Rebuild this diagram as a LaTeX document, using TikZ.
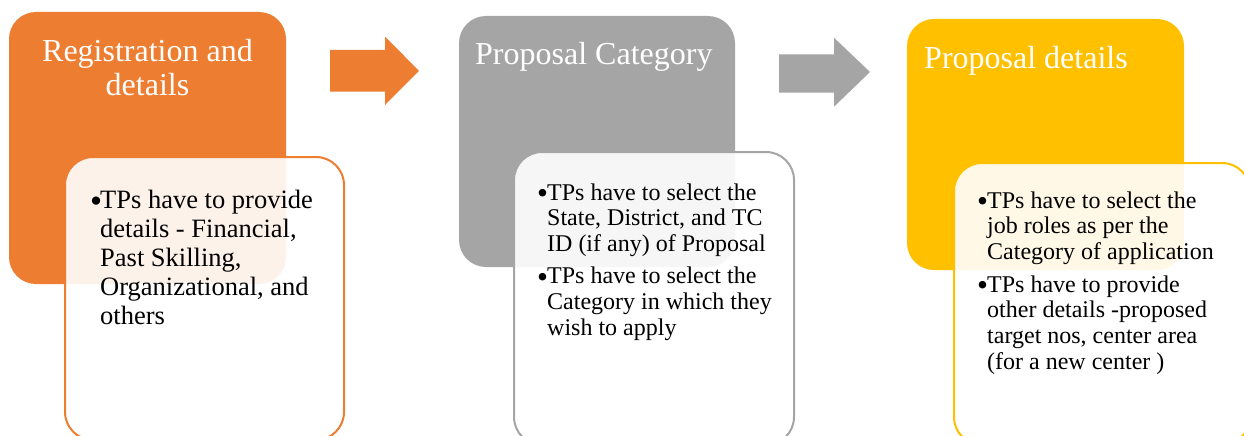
\documentclass[tikz,border=0pt]{standalone}
\usepackage{fontspec}
\setmainfont{Liberation Serif}
\definecolor{cOrange}{HTML}{ED7D31}
\definecolor{cGray}{HTML}{A5A5A5}
\definecolor{cYellow}{HTML}{FFC000}
\newcommand{\bul}{\makebox[10pt][l]{\raisebox{-0.16em}{\scalebox{1.3}{\textbullet}}}}
\begin{document}
\begin{tikzpicture}[x=1pt,y=-1pt,
  headbox/.style={rounded corners=27pt},
  notebox/.style={rounded corners=28pt, fill=white, fill opacity=0.9, line width=2pt},
  title/.style={inner sep=0pt, text=white, font=\fontsize{32}{34}\selectfont},
  bodyA/.style={inner sep=0pt, anchor=base west, text=black, font=\fontsize{26.5}{29.2}\selectfont},
  bodyB/.style={inner sep=0pt, anchor=base west, text=black, font=\fontsize{24}{25.7}\selectfont}]
\useasboundingbox (0,0) rectangle (1244,436);
\clip (0,0) rectangle (1244,436);
% panel 1
\fill[headbox, cOrange] (9,12) rectangle (286,284);
\draw[notebox, draw=cOrange] (65,157) rectangle (344,440);
\node[title, anchor=base] (t1) at (147.5,62) {\begin{tabular}[t]{@{}c@{}}Registration and\\details\end{tabular}};
\node[bodyA] (b1) at (90,208) {\begin{tabular}[t]{@{}l@{}l@{}}
\bul & TPs have to provide\\
 & details - Financial,\\
 & Past Skilling,\\
 & Organizational, and\\
 & others
\end{tabular}};
% arrow 1
\fill[cOrange] (330,50) -- (385,50) -- (385,36.7) -- (419,70.8) -- (385,105) -- (385,91.7) -- (330,91.7) -- cycle;
% panel 2
\fill[headbox, cGray] (459,16) rectangle (735,267);
\draw[notebox, draw=cGray] (514,152) rectangle (794,445);
\node[title, anchor=base west] (t2) at (475,65) {Proposal Category};
\node[bodyB] (b2) at (537,200) {\begin{tabular}[t]{@{}l@{}l@{}}
\bul & TPs have to select the\\
 & State, District, and TC\\
 & ID (if any) of Proposal\\[6.5pt]
\bul & TPs have to select the\\
 & Category in which they\\
 & wish to apply
\end{tabular}};
% arrow 2
\fill[cGray] (779,54.5) -- (834,54.5) -- (834,37.7) -- (870,72) -- (834,106.7) -- (834,92.7) -- (779,92.7) -- cycle;
% panel 3
\fill[headbox, cYellow] (907,19) rectangle (1184,270);
\draw[notebox, draw=cYellow] (954,163) rectangle (1250,445);
\node[title, anchor=base west] (t3) at (924,68) {Proposal details};
\node[bodyB] (b3) at (977,208) {\begin{tabular}[t]{@{}l@{}l@{}}
\bul & TPs have to select the\\
 & job roles as per the\\
 & Category of application\\[7pt]
\bul & TPs have to provide\\
 & other details -proposed\\
 & target nos, center area\\
 & (for a new center )
\end{tabular}};
\end{tikzpicture}
\end{document}
